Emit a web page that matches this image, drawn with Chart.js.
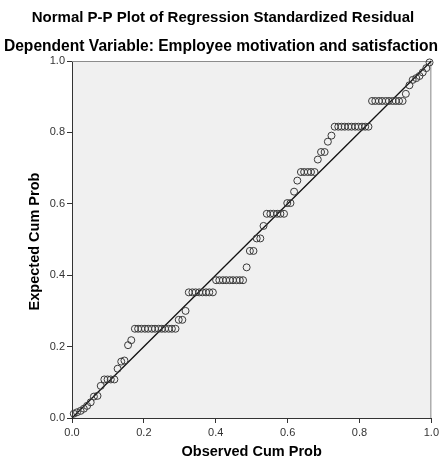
<!DOCTYPE html>
<html>
<head>
<meta charset="utf-8">
<script src="https://cdn.jsdelivr.net/npm/chart.js@4.4.1/dist/chart.umd.min.js"></script>
<style>
  html, body { margin: 0; padding: 0; background: #fff; }
  #wrap { width: 442px; height: 464px; }
</style>
</head>
<body>
<div id="wrap"><canvas id="pp" width="442" height="464"></canvas></div>
<script>
// Observed cumulative probability of each case (sorted residual rank)
const observedCumProb = [0.005,0.014,0.024,0.033,0.042,0.052,0.061,0.071,0.080,0.090,
  0.099,0.108,0.118,0.127,0.137,0.146,0.156,0.165,0.175,0.184,
  0.193,0.203,0.212,0.222,0.231,0.241,0.250,0.259,0.269,0.278,
  0.288,0.297,0.307,0.316,0.325,0.335,0.344,0.354,0.363,0.373,
  0.382,0.392,0.401,0.410,0.420,0.429,0.439,0.448,0.458,0.467,
  0.476,0.486,0.495,0.505,0.514,0.524,0.533,0.542,0.552,0.561,
  0.571,0.580,0.590,0.599,0.608,0.618,0.627,0.637,0.646,0.656,
  0.665,0.675,0.684,0.693,0.703,0.712,0.722,0.731,0.741,0.750,
  0.759,0.769,0.778,0.788,0.797,0.807,0.816,0.825,0.835,0.844,
  0.854,0.863,0.873,0.882,0.892,0.901,0.910,0.920,0.929,0.939,
  0.948,0.958,0.967,0.976,0.986,0.995];

// Expected cumulative probability under normality for the same cases
const expectedCumProb = [0.012,0.016,0.020,0.026,0.034,0.044,0.060,0.062,0.090,0.108,
  0.108,0.108,0.108,0.138,0.158,0.161,0.204,0.218,0.250,0.250,
  0.250,0.250,0.250,0.250,0.250,0.250,0.250,0.250,0.250,0.250,
  0.250,0.275,0.275,0.300,0.352,0.352,0.352,0.352,0.352,0.352,
  0.352,0.352,0.386,0.386,0.386,0.386,0.386,0.386,0.386,0.386,
  0.386,0.422,0.468,0.468,0.503,0.503,0.538,0.572,0.572,0.572,
  0.572,0.572,0.572,0.602,0.602,0.634,0.665,0.689,0.689,0.689,
  0.689,0.689,0.724,0.745,0.745,0.774,0.791,0.816,0.816,0.816,
  0.816,0.816,0.816,0.816,0.816,0.816,0.816,0.816,0.888,0.888,
  0.888,0.888,0.888,0.888,0.888,0.888,0.888,0.888,0.908,0.932,
  0.947,0.952,0.958,0.968,0.980,0.996];

// Diagonal reference line (expected = observed)
const referenceX = [0, 1];
const referenceY = [0, 1];

// Axis ticks
const tickValues = [0, 0.2, 0.4, 0.6, 0.8, 1.0];
const tickLabels = ['0.0', '0.2', '0.4', '0.6', '0.8', '1.0'];

const chartTitle = 'Normal P-P Plot of Regression Standardized Residual';
const chartSubtitle = 'Dependent Variable: Employee motivation and satisfaction';
const xTitle = 'Observed Cum Prob';
const yTitle = 'Expected Cum Prob';

const FONT = '"Liberation Sans", Arial, Helvetica, sans-serif';

const points = observedCumProb.map((x, i) => ({ x: x, y: expectedCumProb[i] }));
const diagonal = referenceX.map((x, i) => ({ x: x, y: referenceY[i] }));

// Plot frame, background and text drawn around the chart area
const framePlugin = {
  id: 'frame',
  beforeDraw(chart) {
    const { ctx, chartArea: a } = chart;
    ctx.save();
    ctx.fillStyle = '#ffffff';
    ctx.fillRect(0, 0, chart.width, chart.height);
    ctx.fillStyle = '#f0f0f0';
    ctx.fillRect(a.left, a.top, a.right - a.left, a.bottom - a.top);
    ctx.restore();
  },
  beforeDatasetsDraw(chart) {
    const { ctx, chartArea: a } = chart;
    ctx.save();
    ctx.strokeStyle = '#8c8c8c';
    ctx.lineWidth = 1;
    ctx.beginPath();
    ctx.moveTo(a.left, a.top + 0.5);
    ctx.lineTo(a.right - 0.5, a.top + 0.5);
    ctx.lineTo(a.right - 0.5, a.bottom);
    ctx.stroke();
    ctx.restore();
  },
  afterDraw(chart) {
    const { ctx, chartArea: a } = chart;
    ctx.save();
    ctx.fillStyle = '#000';
    ctx.textAlign = 'center';
    ctx.textBaseline = 'middle';
    ctx.font = 'bold 15px ' + FONT;
    ctx.fillText(chartTitle, 223, 18);
    ctx.font = 'bold 15.6px ' + FONT;
    ctx.fillText(chartSubtitle, 221, 47);
    ctx.font = 'bold 14.5px ' + FONT;
    ctx.fillText(xTitle, (a.left + a.right) / 2, 452);
    ctx.translate(35, (a.top + a.bottom) / 2 + 2);
    ctx.rotate(-Math.PI / 2);
    ctx.fillText(yTitle, 0, 0);
    ctx.restore();
  }
};

function fixedTicks(scale) {
  scale.ticks = tickValues.map(v => ({ value: v }));
}
function tickText(value) {
  const idx = tickValues.findIndex(v => Math.abs(v - value) < 1e-9);
  return idx >= 0 ? tickLabels[idx] : '';
}

new Chart(document.getElementById('pp'), {
  type: 'scatter',
  data: {
    datasets: [
      {
        data: points,
        pointStyle: 'circle',
        pointRadius: 3.5,
        pointBorderWidth: 1,
        pointBorderColor: '#3a3a3a',
        pointBackgroundColor: 'rgba(0,0,0,0)',
        showLine: false,
        clip: false
      },
      {
        data: diagonal,
        showLine: true,
        borderColor: '#111',
        borderWidth: 1.3,
        pointRadius: 0,
        clip: false
      }
    ]
  },
  options: {
    responsive: false,
    animation: false,
    layout: { padding: { top: 61, right: 10, left: 0, bottom: 0 } },
    plugins: {
      legend: { display: false },
      tooltip: { enabled: false },
      title: { display: false }
    },
    scales: {
      x: {
        type: 'linear',
        min: 0,
        max: 1,
        afterBuildTicks: fixedTicks,
        afterFit(s) { s.height = 46; },
        ticks: {
          callback: tickText,
          color: '#333',
          padding: 3,
          maxRotation: 0,
          font: { family: FONT, size: 11 }
        },
        grid: { drawOnChartArea: false, drawTicks: true, tickLength: 5, color: '#333' },
        border: { display: true, color: '#333', width: 1 }
      },
      y: {
        type: 'linear',
        min: 0,
        max: 1,
        afterBuildTicks: fixedTicks,
        afterFit(s) { s.width = 72; },
        ticks: {
          callback: tickText,
          color: '#333',
          padding: 2,
          font: { family: FONT, size: 11 }
        },
        grid: { drawOnChartArea: false, drawTicks: true, tickLength: 5, color: '#333' },
        border: { display: true, color: '#333', width: 1 }
      }
    }
  },
  plugins: [framePlugin]
});
</script>
</body>
</html>
